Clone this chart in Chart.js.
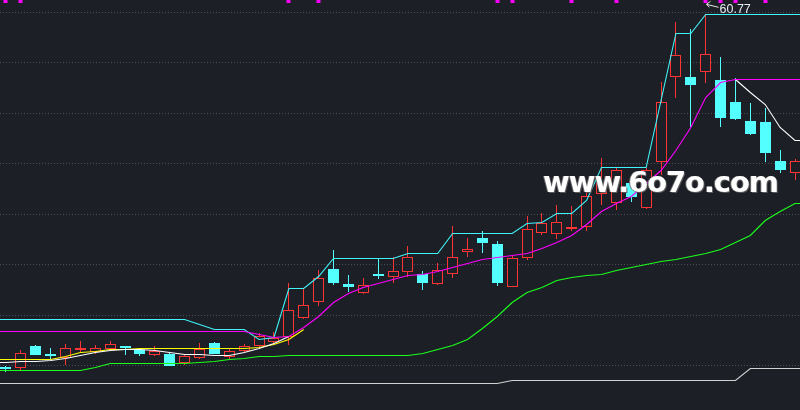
<!DOCTYPE html>
<html>
<head>
<meta charset="utf-8">
<script src="https://cdn.jsdelivr.net/npm/chart.js@4.4.1/dist/chart.umd.min.js"></script>
<style>
html,body{margin:0;padding:0;background:#1c1f26;}
#wrap{position:relative;width:800px;height:410px;background:#1c1f26;overflow:hidden;}
#c{position:absolute;left:0;top:0;}
#wm{position:absolute;left:543px;top:168px;font-family:"DejaVu Sans";font-weight:bold;font-size:29px;letter-spacing:-1.1px;line-height:1;color:#ffffff;text-shadow:1px 1px 0 #5a5a5a,-1px 0 0 #6e6e6e;white-space:nowrap;pointer-events:none;}
</style>
</head>
<body>
<div id="wrap"><canvas id="c" width="800" height="410"></canvas><div id="wm">www.6o7o.com</div></div>
<script>
// ---- data (prices) ----
const opens  = [25.72,25.67,27.88,27.06,26.69,27.49,27.29,27.59,27.88,27.49,26.99,27.09,26.23,26.72,28.15,26.82,27.42,27.91,28.31,28.81,30.63,32.28,35.49,34.03,33.11,34.95,34.76,35.19,34.99,34.00,34.99,37.23,38.56,38.00,33.76,36.64,39.06,38.96,39.48,39.71,42.97,42.06,44.05,41.54,46.10,54.59,54.53,55.08,54.26,52.08,50.19,50.09,46.23,45.01];
const highs  = [25.93,27.49,27.98,27.69,28.08,28.38,27.98,28.38,27.93,27.72,27.88,27.22,27.09,28.21,28.28,27.66,28.08,29.14,29.30,34.10,33.60,35.42,37.40,34.92,34.60,36.58,36.74,37.80,35.32,36.14,39.78,38.56,39.29,38.29,36.91,40.77,41.04,41.86,41.77,43.85,46.49,45.53,44.10,45.53,54.09,60.04,59.28,60.77,56.51,54.41,51.95,51.45,47.32,46.40];
const lows   = [25.34,25.50,26.99,26.60,26.00,27.22,27.09,27.42,26.99,26.92,26.89,25.90,26.00,26.57,27.05,26.50,27.32,27.81,27.98,27.98,30.60,31.85,33.93,33.27,33.05,34.50,34.10,34.76,33.44,33.93,34.66,36.74,37.08,33.83,33.70,36.41,38.89,38.49,39.32,39.32,41.86,41.37,42.16,41.50,44.84,52.44,49.63,53.99,49.63,50.29,48.80,46.16,45.07,44.34];
const closes = [25.67,27.16,26.99,26.96,27.69,27.66,27.69,28.05,27.66,27.09,27.39,25.93,26.89,27.56,27.09,27.39,27.88,28.88,28.65,31.45,31.95,34.60,34.16,33.76,33.93,34.90,35.32,36.68,34.16,35.42,36.68,37.47,38.07,34.16,36.58,39.45,40.05,40.21,39.71,42.76,44.08,45.33,42.61,45.33,52.05,56.74,53.76,56.84,50.46,50.39,48.90,47.05,45.33,46.23];

const upperBand = [30.56,30.56,30.56,30.56,30.56,30.56,30.56,30.56,30.56,30.56,30.56,30.56,30.56,30.07,29.57,29.57,29.57,28.58,28.78,33.63,33.63,34.82,36.61,36.61,36.61,36.61,36.61,37.11,37.11,37.11,39.09,39.09,39.09,39.09,39.09,40.08,40.18,41.07,41.07,42.36,45.63,45.63,45.63,45.63,52.27,58.92,58.92,60.77,60.77,60.77,60.77,60.77,60.77,60.77];
const midLine   = [29.34,29.34,29.34,29.34,29.34,29.34,29.34,29.34,29.34,29.34,29.34,29.34,29.34,29.34,29.34,29.34,29.34,29.07,28.78,28.88,29.77,30.86,32.25,33.14,33.73,34.13,34.53,34.92,35.02,35.32,35.72,36.11,36.51,36.71,36.91,37.11,37.60,38.20,38.89,39.98,41.27,42.06,42.76,44.05,45.33,47.32,49.60,52.57,54.06,54.36,54.36,54.36,54.36,54.36];
const whiteLine = [26.30,26.35,26.40,26.50,26.69,26.99,27.29,27.49,27.59,27.59,27.49,27.29,27.09,27.06,27.04,27.04,27.29,27.69,28.18,28.88,null,null,null,null,null,null,null,null,null,null,null,null,null,null,null,null,null,null,null,null,null,null,null,null,null,null,null,null,null,54.36,53.07,51.88,49.60,48.31];
const yellowLine= [26.57,26.57,26.57,26.57,26.89,27.26,27.39,27.54,27.59,27.64,27.66,27.66,27.66,27.66,27.66,27.66,27.66,27.78,28.08,28.58,29.57,null,null,null,null,null,null,null,null,null,null,null,null,null,null,null,null,null,null,null,null,null,null,null,null,null,null,null,null,null,null,null,null,null];
const greenLine = [25.47,25.47,25.47,25.47,25.47,25.47,25.85,26.17,26.17,26.17,26.17,26.17,26.17,26.32,26.42,26.55,26.74,26.89,26.94,26.96,26.96,26.96,26.96,26.96,26.96,26.96,26.96,26.96,27.24,27.54,27.95,28.58,29.67,30.86,32.25,33.24,33.73,34.38,34.73,34.92,35.02,35.42,35.72,36.01,36.31,36.56,36.81,37.11,37.50,38.20,38.89,40.38,41.27,42.06];
const baseLine  = [24.22,24.22,24.22,24.22,24.22,24.22,24.22,24.22,24.22,24.22,24.22,24.22,24.22,24.22,24.22,24.22,24.22,24.22,24.22,24.22,24.22,24.22,24.22,24.22,24.22,24.22,24.22,24.22,24.22,24.22,24.22,24.22,24.22,24.22,24.51,24.51,24.51,24.51,24.51,24.51,24.51,24.51,24.51,24.51,24.51,24.51,24.51,24.51,24.51,24.51,25.70,25.70,25.70,25.70];

const signalIdx  = [0,1,19,21,33,34,38,41,47,48,49,51];
const gridValues = [26,31,36,41,46,51,56,61];
const peakIndex  = 47;

// ---- styling ----
const RED = '#ff3434', CYAN = '#54ffff', BG = '#1c1f26';
const n = opens.length;
const up = opens.map((o,i)=>closes[i] >= o);

const wickData = opens.map((o,i)=>({x:i, y:[lows[i], highs[i]]}));
const bodyData = opens.map((o,i)=>{
  let a = o, b = closes[i];
  if (Math.abs(a-b) < 0.14) { const m=(a+b)/2; a = m-0.07; b = m+0.07; }
  return {x:i, y:[a,b]};
});
const sigData = signalIdx.map(i=>({x:i, y:[0.992,1]}));

function lineData(arr){
  const pts = arr.map((v,i)=>({x:i, y:v}));
  if (arr[0] !== null) pts.unshift({x:-1, y:arr[0]});
  if (arr[n-1] !== null) pts.push({x:n, y:arr[n-1]});
  return pts;
}
function lineDs(arr, color, order){
  return {type:'line', data:lineData(arr), borderColor:color, borderWidth:1.1, pointRadius:0,
          tension:0, spanGaps:false, fill:false, order:order};
}

// pixel-snap library-computed element positions for crisp 1px rendering
const snap = {
  id:'snap',
  afterDatasetsUpdate(chart){
    chart.data.datasets.forEach((ds,di)=>{
      const meta = chart.getDatasetMeta(di);
      if (meta.type === 'bar') {
        meta.data.forEach(el=>{
          el.x = Math.floor(el.x) + 0.5;
          el.y = Math.round(el.y);
          el.base = Math.round(el.base);
          if (el.base === el.y) el.base = el.y + 1;
        });
      } else if (meta.type === 'line') {
        meta.data.forEach(pt=>{
          if (!pt.skip) { pt.y = Math.round(pt.y) + 0.5; }
        });
      }
    });
  }
};

const overlay = {
  id:'overlay',
  beforeDatasetsDraw(chart){
    const {ctx, chartArea:a, scales:{y}} = chart;
    ctx.save();
    ctx.strokeStyle = '#4b4e57'; ctx.lineWidth = 1; ctx.setLineDash([1,2]);
    gridValues.forEach(v=>{
      const py = Math.round(y.getPixelForValue(v)) + 0.5;
      ctx.beginPath(); ctx.moveTo(a.left, py); ctx.lineTo(a.right, py); ctx.stroke();
    });
    ctx.restore();
  },
  afterDatasetsDraw(chart){
    const {ctx, scales:{x,y}} = chart;
    const px = Math.floor(x.getPixelForValue(peakIndex)) + 0.5, py = y.getPixelForValue(highs[peakIndex]);
    ctx.save();
    ctx.strokeStyle = '#e8e8e8'; ctx.lineWidth = 1;
    ctx.beginPath();
    ctx.moveTo(px+1, py-10); ctx.lineTo(px+13, py-7);
    ctx.moveTo(px+1, py-10); ctx.lineTo(px+5, py-13);
    ctx.moveTo(px+1, py-10); ctx.lineTo(px+4, py-7);
    ctx.stroke();
    ctx.fillStyle = '#e6ecf2';
    ctx.font = '12.5px "Liberation Sans", Arial, sans-serif';
    ctx.textBaseline = 'middle';
    ctx.fillText(highs[peakIndex].toFixed(2), px+14, py-5);
    ctx.restore();
  }
};

new Chart(document.getElementById('c'), {
  type:'bar',
  data:{
    datasets:[
      {type:'bar', data:wickData, backgroundColor:up.map(u=>u?RED:CYAN), borderWidth:0,
       barThickness:1, grouped:false, inflateAmount:0, order:20},
      {type:'bar', data:bodyData, backgroundColor:up.map(u=>u?BG:CYAN), borderColor:up.map(u=>u?RED:CYAN),
       borderWidth:up.map(u=>u?1:0), borderSkipped:false, barThickness:11, grouped:false, inflateAmount:0, order:19},
      {type:'bar', data:sigData, yAxisID:'ySig', backgroundColor:'#ff00ff', borderWidth:0,
       barThickness:4, grouped:false, inflateAmount:0, order:18},
      lineDs(baseLine,   '#d2d2d2', 7),
      lineDs(greenLine,  '#1cff1c', 6),
      lineDs(yellowLine, '#ffff00', 5),
      lineDs(whiteLine,  '#ffffff', 4),
      lineDs(upperBand,  '#40f4f8', 3),
      lineDs(midLine,    '#ff00ff', 2)
    ]
  },
  options:{
    responsive:false,
    animation:false,
    layout:{padding:0, autoPadding:false},
    plugins:{legend:{display:false}, tooltip:{enabled:false}},
    scales:{
      x:{type:'linear', min:-0.403, max:53.335, offset:false, display:false},
      y:{type:'linear', min:21.54, max:62.19, display:false},
      ySig:{type:'linear', min:0, max:1, display:false}
    }
  },
  plugins:[snap, overlay]
});
</script>
</body>
</html>
